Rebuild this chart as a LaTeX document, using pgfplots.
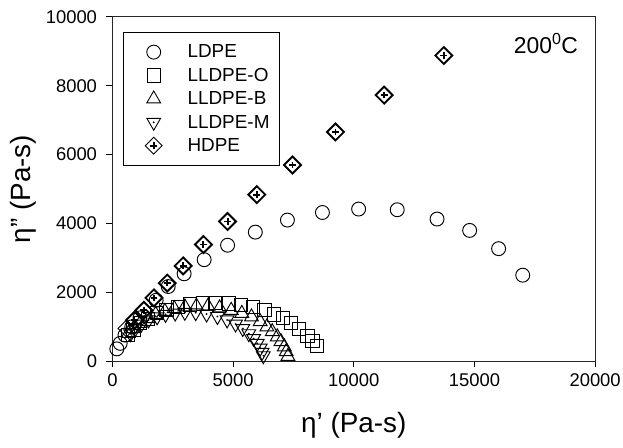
\documentclass[border=0pt]{standalone}
\usepackage{pgfplots}
\pgfplotsset{compat=1.18}
\usepackage{fontspec}
\setmainfont{Liberation Sans}

\pgfdeclareplotmark{hdpe}{%
  \pgfpathmoveto{\pgfqpoint{0pt}{\pgfplotmarksize}}%
  \pgfpathlineto{\pgfqpoint{\pgfplotmarksize}{0pt}}%
  \pgfpathlineto{\pgfqpoint{0pt}{-\pgfplotmarksize}}%
  \pgfpathlineto{\pgfqpoint{-\pgfplotmarksize}{0pt}}%
  \pgfpathclose
  \pgfusepathqstroke
  \pgfsetlinewidth{1.9pt}%
  \pgfpathmoveto{\pgfqpoint{-0.4\pgfplotmarksize}{0pt}}%
  \pgfpathlineto{\pgfqpoint{0.4\pgfplotmarksize}{0pt}}%
  \pgfpathmoveto{\pgfqpoint{0pt}{-0.4\pgfplotmarksize}}%
  \pgfpathlineto{\pgfqpoint{0pt}{0.4\pgfplotmarksize}}%
  \pgfusepathqstroke
}
\pgfdeclareplotmark{invtridot}{%
  \pgfpathmoveto{\pgfqpoint{0pt}{-\pgfplotmarksize}}%
  \pgfpathlineto{\pgfqpointpolar{30}{\pgfplotmarksize}}%
  \pgfpathlineto{\pgfqpointpolar{150}{\pgfplotmarksize}}%
  \pgfpathclose
  \pgfusepathqstroke
  \pgfpathcircle{\pgfpointorigin}{0.13\pgfplotmarksize}%
  \pgfusepathqfill
}

\begin{document}
\begin{tikzpicture}
\begin{axis}[
  name=ax,
  scale only axis,
  width=485pt, height=346pt,
  xmin=0, xmax=20000, ymin=0, ymax=10000,
  xtick={0,5000,10000,15000,20000},
  ytick={0,2000,4000,6000,8000,10000},
  scaled ticks=false,
  /pgf/number format/assume math mode=true,
  xticklabel={\pgfmathprintnumber[fixed,1000 sep={}]{\tick}},
  yticklabel={\pgfmathprintnumber[fixed,1000 sep={}]{\tick}},
  tick label style={font=\fontsize{18.5}{20}\selectfont},
  yticklabel style={xshift=-6pt},
  xticklabel style={yshift=-3pt},
  tick align=outside,
  xtick pos=bottom, ytick pos=left,
  major tick length=6pt,
  axis line style={line width=1.1pt, black!85},
  tick style={line width=1pt, black},
  xlabel={η\char"27{} (Pa-s)},
  ylabel={η\char"22{} (Pa-s)},
  label style={font=\fontsize{28}{30}\selectfont},
  xlabel style={at={(axis description cs:0.5,0)}, anchor=center, yshift=-64pt},
  ylabel style={at={(axis description cs:0,0.5)}, anchor=center, yshift=90pt},
  legend style={at={(axis description cs:0.0226,0.957)}, anchor=north west,
    font=\fontsize{19}{21}\selectfont, draw=black, line width=1pt,
    inner xsep=10pt, inner ysep=8.25pt, row sep=0pt, column sep=0pt,
    nodes={inner sep=0pt, font=\fontsize{19}{21}\selectfont}},
  legend cell align=left,
  legend image code/.code={%
    \path[draw=none, fill=none] (0pt,-11.75pt) rectangle (54pt,11.75pt);
    \draw[line width=0.9pt,#1] plot coordinates {(20pt,0pt)};},
  every axis plot/.append style={only marks, black, line width=0.95pt},
  clip=false,
]
% LDPE
\addplot[mark=o, mark size=7pt] coordinates {
(180,360) (320,520) (520,760) (800,1000) (1140,1260) (1810,1770) (2310,2170)
(2970,2540) (3800,2950) (4770,3370) (5920,3750) (7250,4100) (8700,4320)
(10200,4420) (11800,4400) (13450,4130) (14800,3800) (16000,3270) (17000,2500)
};
\addlegendentry{LDPE}
% LLDPE-O
\addplot[mark=square, mark size=6.6pt] coordinates {
(660,760) (870,900) (1140,1100) (1480,1240) (1830,1390) (2240,1480) (2720,1580)
(3200,1650) (3750,1680) (4260,1690) (4810,1680) (5330,1630) (5810,1580)
(6300,1480) (6710,1360) (7050,1260) (7390,1100) (7740,950) (8080,740)
(8290,590) (8460,440)
};
\addlegendentry{LLDPE-O}
% LLDPE-B
\addplot[mark=triangle, mark size=8pt] coordinates {
(660,810) (870,950) (1140,1100) (1460,1240) (1790,1360) (2170,1450) (2560,1530)
(3000,1580) (3480,1600) (3960,1600) (4440,1550) (4920,1480) (5360,1390)
(5760,1290) (6120,1150) (6400,1000) (6620,860) (6830,710) (6980,570)
(7120,420) (7200,280) (7270,140)
};
\addlegendentry{LLDPE-B}
% LLDPE-M
\addplot[mark=invtridot, mark size=8pt, fill=black] coordinates {
(750,800) (950,950) (1200,1080) (1500,1200) (1850,1290) (2200,1360)
(2600,1400) (3000,1420) (3450,1410) (3900,1370) (4350,1300) (4750,1200)
(5100,1080) (5400,950) (5650,800) (5850,660) (6000,520) (6120,380)
(6200,260) (6250,160)
};
\addlegendentry{LLDPE-M}
% HDPE
\addplot[mark=hdpe, mark size=8.5pt] coordinates {
(580,950) (910,1190) (1300,1480) (1720,1840) (2270,2270) (2930,2770)
(3770,3390) (4770,4060) (5980,4840) (7460,5700) (9240,6660) (11260,7730)
(13730,8880)
};
\addlegendentry{HDPE}
\node[anchor=north east, inner sep=0pt, font=\fontsize{23}{26}\selectfont]
  at ([xshift=-17pt,yshift=-16pt]rel axis cs:1,1) {200\textsuperscript{0}C};
\end{axis}
\pgfresetboundingbox
\path (ax.south west) ++(-113pt,-87pt) coordinate (bbl);
\path (ax.north east) ++(28pt,17pt) coordinate (btr);
\path[use as bounding box] (bbl) rectangle (btr);
\end{tikzpicture}
\end{document}
